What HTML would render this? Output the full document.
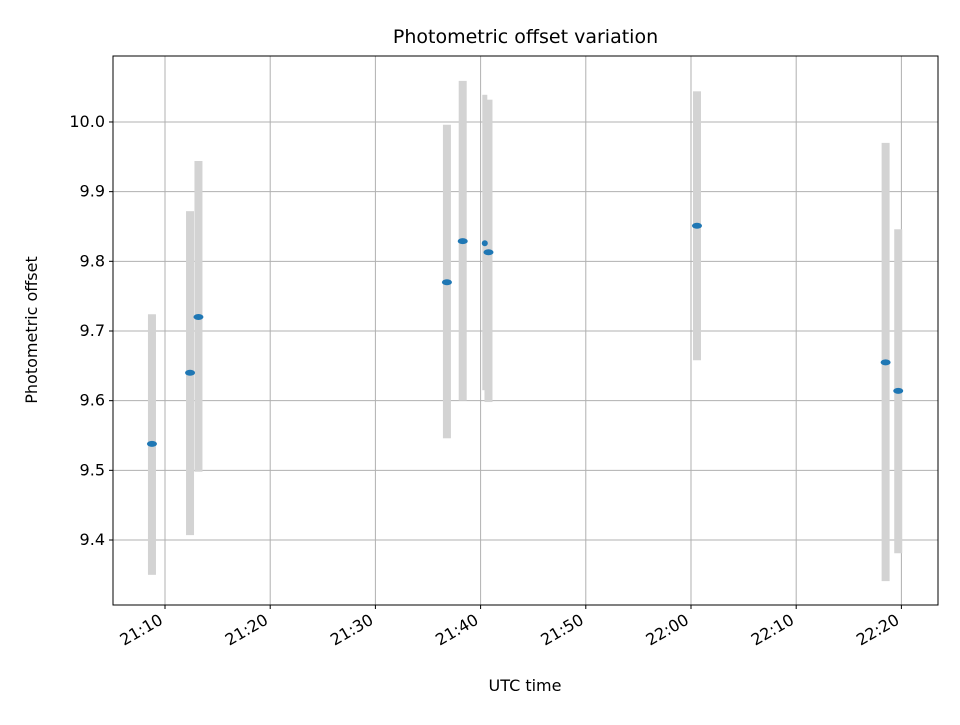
<!DOCTYPE html>
<html><head><meta charset="utf-8"><style>body{margin:0;background:#fff}svg{font-family:"DejaVu Sans","Liberation Sans",sans-serif}</style></head>
<body>
<svg id="c" width="960" height="720"></svg>
<script>
const tMin=[8.76,12.38,13.18,36.8,38.3,40.4,40.75,60.57,78.5,79.7];
const yVal=[9.538,9.640,9.720,9.770,9.829,9.826,9.813,9.851,9.655,9.614];
const yLow=[9.350,9.407,9.498,9.546,9.600,9.615,9.598,9.658,9.341,9.381];
const yHigh=[9.724,9.872,9.944,9.996,10.059,10.039,10.032,10.044,9.970,9.846];
const markerSmall=[0,0,0,0,0,1,0,0,0,0];
const yTicks=[9.4,9.5,9.6,9.7,9.8,9.9,10.0];
const xTicks=[10,20,30,40,50,60,70,80];
const xTickLabels=["21:10","21:20","21:30","21:40","21:50","22:00","22:10","22:20"];
const L=113,R=938,T=56,B=605;
const x0=5.057,x1=83.48,y0=9.3067,y1=10.0947;
const X=m=>L+(m-x0)/(x1-x0)*(R-L);
const Y=v=>B-(v-y0)/(y1-y0)*(B-T);
const s=document.getElementById('c');const NS='http://www.w3.org/2000/svg';
function mk(t,a,p){const e=document.createElementNS(NS,t);for(const k in a)e.setAttribute(k,a[k]);(p||s).appendChild(e);return e;}
let g;
yTicks.forEach((v,i)=>{
 g=mk('line',{x1:L,x2:R,y1:Y(v),y2:Y(v),stroke:'#b0b0b0','stroke-width':1});
 
 
 mk('line',{x1:L-4,x2:L,y1:Y(v),y2:Y(v),stroke:'#000'});
 g=mk('text',{x:L-8,y:Y(v)+5,'text-anchor':'end','font-size':16});g.textContent=v.toFixed(1);
 
 
});
xTicks.forEach((m,i)=>{
 g=mk('line',{x1:X(m),x2:X(m),y1:T,y2:B,stroke:'#b0b0b0','stroke-width':1});
 
 
 mk('line',{x1:X(m),x2:X(m),y1:B,y2:B+4,stroke:'#000'});
 const ax=X(m)-1, ay=B+18;
 g=mk('text',{x:ax,y:ay,'text-anchor':'end','font-size':16,transform:`rotate(-30 ${ax} ${ay})`});g.textContent=xTickLabels[i];
 
 
});
tMin.forEach((m,i)=>{
 const w=markerSmall[i]?5:8;
 g=mk('rect',{x:X(m)-w/2,y:Y(yHigh[i]),width:w,height:Y(yLow[i])-Y(yHigh[i]),fill:'#d3d3d3'});
 
 
});
tMin.forEach((m,i)=>{
 g=mk('ellipse',{cx:X(m),cy:Y(yVal[i]),rx:markerSmall[i]?3:5,ry:3,fill:'#1f77b4'});
 
 
});
g=mk('rect',{x:L,y:T,width:R-L,height:B-T,fill:'none',stroke:'#000','stroke-width':1});


g=mk('text',{x:(L+R)/2,y:43,'text-anchor':'middle','font-size':19});g.textContent='Photometric offset variation';


g=mk('text',{x:525,y:691,'text-anchor':'middle','font-size':16});g.textContent='UTC time';


g=mk('text',{x:37,y:330,'text-anchor':'middle','font-size':16,transform:'rotate(-90 37 330)'});g.textContent='Photometric offset';


</script>
</body></html>
